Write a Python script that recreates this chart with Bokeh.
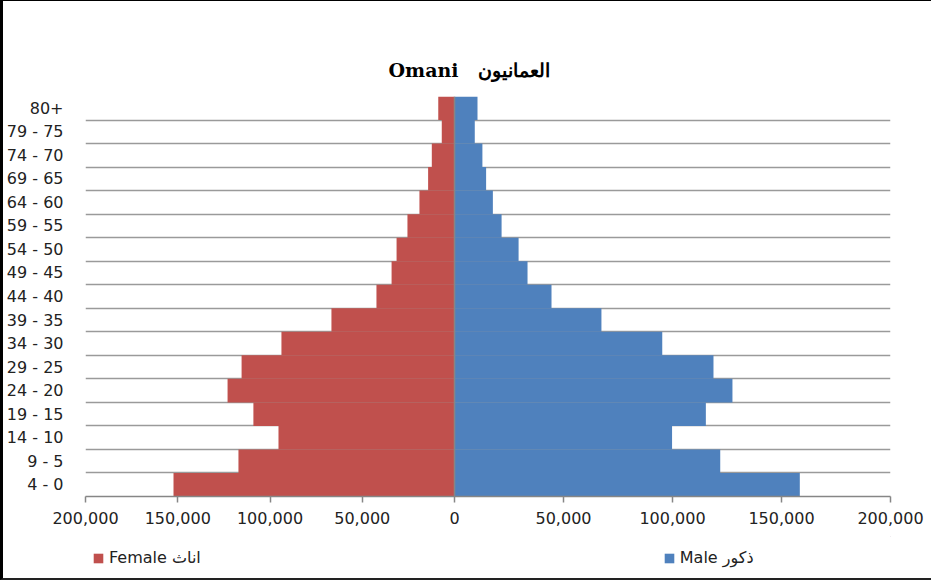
from bokeh.plotting import figure
from bokeh.layouts import column
from bokeh.models import Range1d, FixedTicker, Span, Legend, LegendItem, ColumnDataSource
from bokeh.embed import file_html
from bokeh.resources import INLINE

ages = ["4 - 0", "9 - 5", "14 - 10", "19 - 15", "24 - 20", "29 - 25", "34 - 30",
        "39 - 35", "44 - 40", "49 - 45", "54 - 50", "59 - 55", "64 - 60", "69 - 65",
        "74 - 70", "79 - 75", "80+"]
female = [152300, 117100, 95400, 109000, 123000, 115400, 93800, 66700, 42300,
          34100, 31400, 25500, 19000, 14300, 12300, 6900, 8800]
male = [158400, 121900, 99800, 115300, 127500, 118800, 95300, 67400, 44500,
        33500, 29400, 21600, 17600, 14500, 12800, 9300, 10550]
female_ticks = [-200000, -150000, -100000, -50000]
male_ticks = [0, 50000, 100000, 150000, 200000]
series_names = ["Female اناث", "Male ذكور"]
series_colors = ["#C0504D", "#4F81BD"]

# the female half of the axis is drawn more compact than the male half
SCALE = 369 / 436
W = 928

pos = list(range(len(ages)))
src = ColumnDataSource(dict(pos=pos, f=[-v for v in female], m=male,
                            zero=[0] * len(ages)))

p = figure(width=W, height=535, output_backend="svg", toolbar_location=None,
           x_range=Range1d(-200000 * SCALE, 200000),
           y_range=Range1d(-0.5, len(ages) - 0.5),
           min_border_left=82, min_border_right=41, min_border_top=95,
           min_border_bottom=40)
p.extra_x_ranges = {"female": Range1d(-200000, 200000 / SCALE)}
p.outline_line_color = None
p.background_fill_color = "white"
p.border_fill_color = "white"

p.hbar(y="pos", left="f", right="zero", height=1, source=src,
       x_range_name="female", fill_color=series_colors[0], line_color=None)
p.hbar(y="pos", left="zero", right="m", height=1, source=src,
       fill_color=series_colors[1], line_color=None)

# grid lines at category boundaries
p.xgrid.visible = False
p.ygrid.ticker = FixedTicker(ticks=[i - 0.5 for i in range(len(ages) + 1)])
p.ygrid.grid_line_color = "#9a9a9a"
p.ygrid.grid_line_width = 1.5

# y axis
p.yaxis.ticker = FixedTicker(ticks=pos)
p.yaxis.major_label_overrides = {i: a for i, a in enumerate(ages)}
p.yaxis.axis_line_color = None
p.yaxis.major_tick_line_color = None
p.yaxis.minor_tick_line_color = None
p.yaxis.major_tick_out = 0
p.yaxis.major_tick_in = 0
p.yaxis.major_label_standoff = 22
p.yaxis.major_label_text_font = "DejaVu Sans"
p.yaxis.major_label_text_font_size = "16px"
p.yaxis.major_label_text_color = "#222222"

# x axis
xt = [round(t * SCALE) for t in female_ticks] + male_ticks
labels = {round(t * SCALE): f"{abs(t):,}" for t in female_ticks}
labels.update({t: f"{t:,}" for t in male_ticks})
p.xaxis.ticker = FixedTicker(ticks=xt)
p.xaxis.major_label_overrides = labels
p.xaxis.axis_line_color = "#868686"
p.xaxis.axis_line_width = 1.5
p.xaxis.major_tick_line_color = "#868686"
p.xaxis.major_tick_line_width = 1.5
p.xaxis.major_tick_in = 0
p.xaxis.major_tick_out = 6
p.xaxis.minor_tick_line_color = None
p.xaxis.major_label_standoff = 9
p.xaxis.major_label_text_font = "DejaVu Sans"
p.xaxis.major_label_text_font_size = "16px"
p.xaxis.major_label_text_color = "#222222"

p.add_layout(Span(location=0, dimension="height", line_color="#868686",
                  line_width=1.5))

# title
p.title.text = "Omani\u00a0\u00a0\u00a0العمانيون"
p.title.align = "left"
p.title.offset = 303
p.title.text_font = "DejaVu Serif"
p.title.text_font_style = "bold"
p.title.text_font_size = "19px"
p.title.text_color = "black"
p.title.standoff = 31

# legend strip below the chart (its frame is aligned with the chart's frame)
lg = figure(width=W, height=42, output_backend="svg", toolbar_location=None,
            x_range=Range1d(0, 1), y_range=Range1d(0, 1), min_border=0)
lg.axis.visible = False
lg.grid.visible = False
lg.outline_line_color = None
lg.background_fill_color = "white"
lg.border_fill_color = "white"
items = []
for name, col in zip(series_names, series_colors):
    # legend-key glyph only; its bar sits well outside the visible range
    r = lg.hbar(y=[50], left=[50], right=[51], height=1, fill_color=col,
                line_color=None)
    items.append(LegendItem(label=name, renderers=[r]))
legend = Legend(items=items, orientation="horizontal", location=(7, 11),
                spacing=462, glyph_width=12, glyph_height=12,
                label_standoff=5, label_text_font="DejaVu Sans",
                label_text_font_size="16px", label_text_color="#222222",
                border_line_color=None, background_fill_alpha=0,
                padding=0, margin=0)
lg.add_layout(legend)

layout = column(p, lg, spacing=0,
                styles={"border-left": "3px solid black",
                        "border-top": "1px solid black",
                        "border-bottom": "2px solid #222222"})

open("out.html", "w").write(file_html(layout, INLINE))
